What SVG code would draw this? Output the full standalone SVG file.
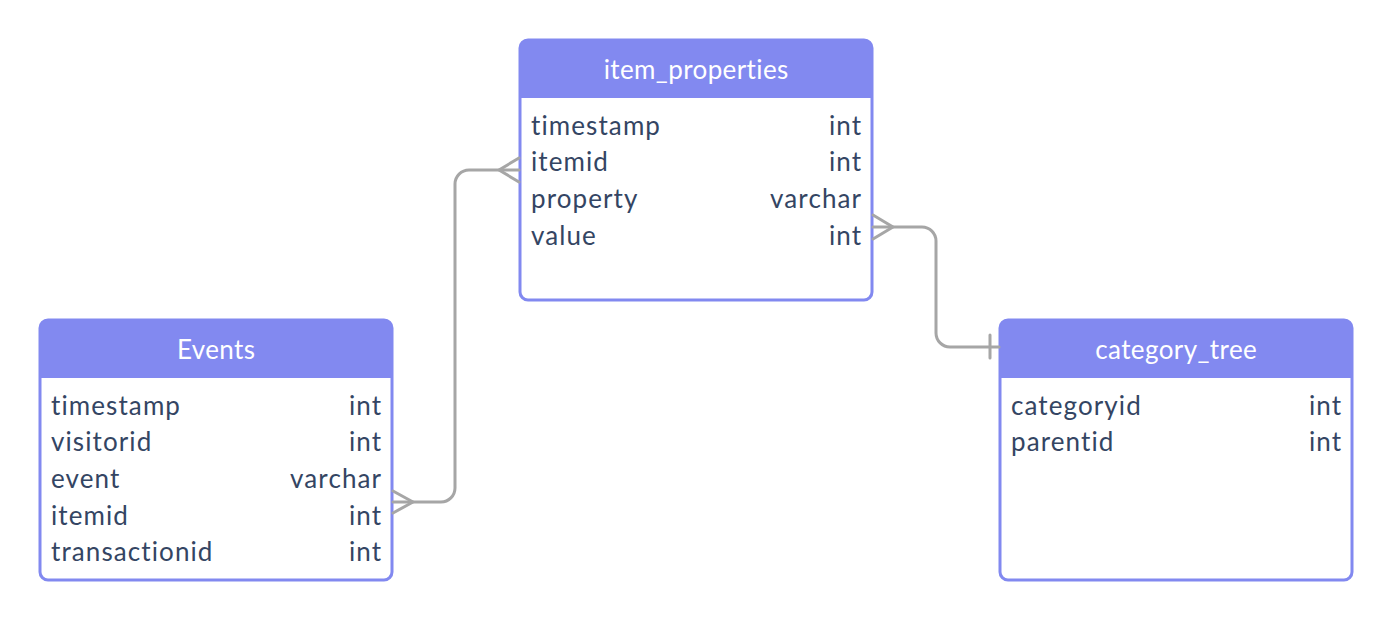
<svg xmlns="http://www.w3.org/2000/svg" width="1392" height="621" viewBox="0 0 1392 621">
<style>
text{font-variant-ligatures:none}
.box{fill:#fff;stroke:#8289F0;stroke-width:3}
.hdr{fill:#8289F0}
.ht{font-family:Lato,"Open Sans",sans-serif;font-size:26px;letter-spacing:0.4px;fill:#fff;text-anchor:middle}
.rt{font-family:Lato,"Open Sans",sans-serif;font-size:26px;letter-spacing:1.1px;fill:#344563}
.r{text-anchor:end}
.conn{fill:none;stroke:#A6A6A6;stroke-width:3;stroke-linecap:round;stroke-linejoin:round}
</style>
<rect width="1392" height="621" fill="#fff"/>
<g id="item_properties">
<rect class="box" x="520" y="40" width="352" height="260" rx="8"/>
<path class="hdr" d="M520 48a8 8 0 0 1 8-8h336a8 8 0 0 1 8 8v50h-352z"/>
<text class="ht" x="696.2" y="79">item_properties</text>
<text class="rt" x="531" y="135">timestamp</text><text class="rt r" x="862.1" y="135">int</text>
<text class="rt" x="531" y="171">itemid</text><text class="rt r" x="862.1" y="171">int</text>
<text class="rt" x="531" y="208">property</text><text class="rt r" x="862.1" y="208">varchar</text>
<text class="rt" x="531" y="245">value</text><text class="rt r" x="862.1" y="245">int</text>
</g>
<g id="events">
<rect class="box" x="40" y="320" width="352" height="260" rx="8"/>
<path class="hdr" d="M40 328a8 8 0 0 1 8-8h336a8 8 0 0 1 8 8v50h-352z"/>
<text class="ht" x="216.2" y="359">Events</text>
<text class="rt" x="51" y="415">timestamp</text><text class="rt r" x="382.1" y="415">int</text>
<text class="rt" x="51" y="451">visitorid</text><text class="rt r" x="382.1" y="451">int</text>
<text class="rt" x="51" y="488">event</text><text class="rt r" x="382.1" y="488">varchar</text>
<text class="rt" x="51" y="525">itemid</text><text class="rt r" x="382.1" y="525">int</text>
<text class="rt" x="51" y="561">transactionid</text><text class="rt r" x="382.1" y="561">int</text>
</g>
<g id="category_tree">
<rect class="box" x="1000" y="320" width="352" height="260" rx="8"/>
<path class="hdr" d="M1000 328a8 8 0 0 1 8-8h336a8 8 0 0 1 8 8v50h-352z"/>
<text class="ht" x="1176.2" y="359">category_tree</text>
<text class="rt" x="1011" y="415">categoryid</text><text class="rt r" x="1342.1" y="415">int</text>
<text class="rt" x="1011" y="451">parentid</text><text class="rt r" x="1342.1" y="451">int</text>
</g>
<g id="connectors">
<path class="conn" d="M393 502H441a14 14 0 0 0 14-14V184a14 14 0 0 1 14-14H519"/>
<path class="conn" d="M393 491L413 502L393 513"/>
<path class="conn" d="M519 158L499 170L519 182"/>
<path class="conn" d="M873 227H922a14 14 0 0 1 14 14V333a14 14 0 0 0 14 14H999"/>
<path class="conn" d="M873 215L893 227L873 239"/>
<path class="conn" d="M990 335V358"/>
</g>
</svg>
